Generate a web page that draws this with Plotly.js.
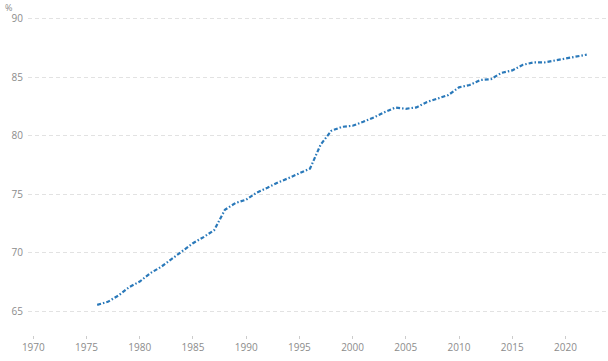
<!DOCTYPE html>
<html>
<head>
<meta charset="utf-8">
<script src="https://cdn.plot.ly/plotly-3.0.1.min.js"></script>
<style>html,body{margin:0;padding:0;background:#fff;}#chart{width:608px;height:361px;}</style>
</head>
<body>
<div id="chart"></div>
<script>
const years = [1976,1977,1978,1979,1980,1981,1982,1983,1984,1985,1986,1987,1988,1989,1990,1991,1992,1993,1994,1995,1996,1997,1998,1999,2000,2001,2002,2003,2004,2005,2006,2007,2008,2009,2010,2011,2012,2013,2014,2015,2016,2017,2018,2019,2020,2021,2022];
const values = [65.57,65.83,66.37,67.08,67.56,68.28,68.81,69.5,70.18,70.83,71.35,71.95,73.68,74.26,74.55,75.15,75.57,76.02,76.39,76.82,77.2,79.24,80.42,80.76,80.85,81.19,81.56,82.0,82.4,82.3,82.42,82.88,83.19,83.47,84.13,84.33,84.75,84.83,85.37,85.57,86.05,86.25,86.25,86.42,86.64,86.78,86.92];
const xTicks = [1970,1975,1980,1985,1990,1995,2000,2005,2010,2015,2020];
const yTicks = [65,70,75,80,85,90];
const unitLabel = '%';

const plotH = 361 - 15 - 26;
const trace = {
  x: years, y: values, type: 'scatter', mode: 'lines',
  line: {color: '#2a79ba', width: 2.2, dash: '4px,2px,1.5px,2px'},
  hoverinfo: 'x+y'
};
const layout = {
  width: 608, height: 361,
  margin: {l: 28, r: 0, t: 15, b: 26},
  paper_bgcolor: '#fff', plot_bgcolor: '#fff',
  font: {family: 'Open Sans, sans-serif', size: 10, color: '#8c8c8c'},
  showlegend: false,
  xaxis: {
    range: [1969.5, 2024], tickvals: xTicks, ticktext: xTicks.map(String),
    showgrid: false, zeroline: false, showline: false,
    ticks: 'outside', ticklen: 3, tickwidth: 1, tickcolor: '#cccccc',
    tickfont: {size: 10, color: '#8c8c8c'}
  },
  yaxis: {
    range: [63.0, 90.3], tickvals: yTicks, ticktext: yTicks.map(String),
    showgrid: true, gridcolor: '#e2e2e2', gridwidth: 1, griddash: '4px,3px',
    zeroline: false, showline: false, ticks: '',
    ticklabelstandoff: 4,
    tickfont: {size: 10, color: '#8c8c8c'}
  },
  annotations: [{
    text: unitLabel, xref: 'paper', yref: 'paper',
    x: -25/580, y: 1 + 7/plotH, xanchor: 'left', yanchor: 'middle',
    showarrow: false, font: {size: 9, color: '#8c8c8c'}
  }]
};
Plotly.newPlot('chart', [trace], layout, {displayModeBar: false, staticPlot: true});
</script>
</body>
</html>
